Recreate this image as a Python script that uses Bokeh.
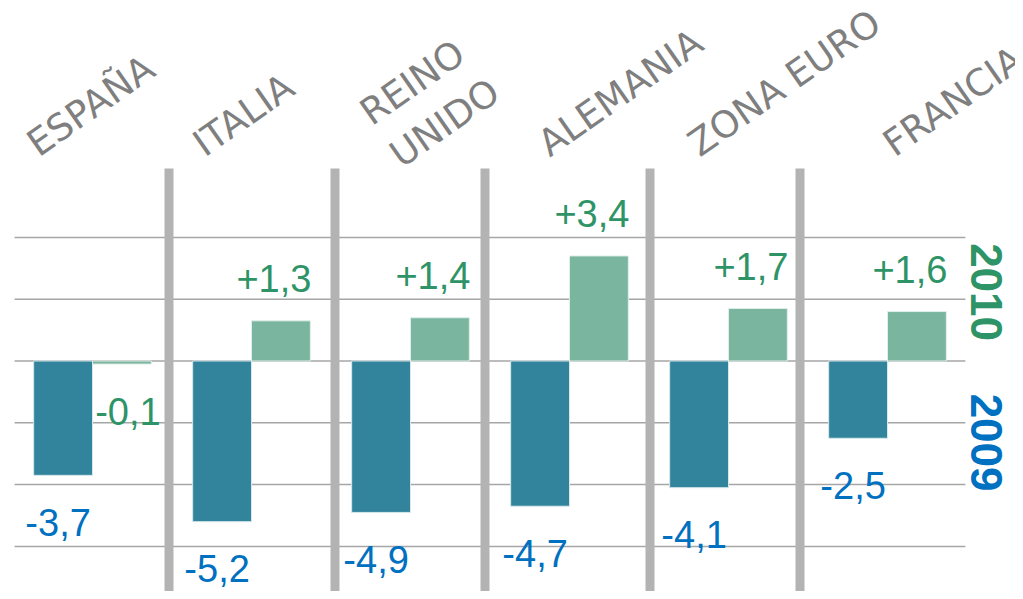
import math
from bokeh.plotting import figure
from bokeh.models import Range1d, ColumnDataSource
from bokeh.embed import file_html
from bokeh.resources import INLINE
from bokeh.core.properties import value

# ---------------- data ----------------
categories = ["ESPAÑA", "ITALIA", "REINO UNIDO", "ALEMANIA", "ZONA EURO", "FRANCIA"]
category_labels = ["ESPAÑA", "ITALIA", "REINO\nUNIDO", "ALEMANIA", "ZONA EURO", "FRANCIA"]
values_2009 = [-3.7, -5.2, -4.9, -4.7, -4.1, -2.5]
values_2010 = [-0.1, 1.3, 1.4, 3.4, 1.7, 1.6]
grid_values = [4, 2, 0, -2, -4, -6]
series_2009 = "2009"
series_2010 = "2010"

# ---------------- layout / style ----------------
W, H = 1015, 591
PX_PER_CAT = 159.0
PX_PER_UNIT = 30.9
X0_PX = 92.0
Y0_PX = 360.5
BAR_W = 0.37

C_2009_BAR = "#31849b"
C_2010_BAR = "#7ab59f"
C_2009_TXT = "#0070c0"
C_2010_TXT = "#2e9467"
C_GRID = "#a6a6a6"
C_SEP = "#b3b3b3"
C_CAT = "#7f7f7f"

def fmt(v):
    return ("%+.1f" % v).replace(".", ",")

n = len(categories)
idx = list(range(n))

p = figure(width=W, height=H, output_backend="svg", toolbar_location=None,
           x_range=Range1d(-X0_PX / PX_PER_CAT, (W - X0_PX) / PX_PER_CAT),
           y_range=Range1d(-(H - Y0_PX) / PX_PER_UNIT, Y0_PX / PX_PER_UNIT),
           min_border=0, min_border_left=0, min_border_right=0,
           min_border_top=0, min_border_bottom=0)
p.axis.visible = False
p.grid.visible = False
p.outline_line_color = None
p.background_fill_color = "white"
p.border_fill_color = "white"

# gridlines
p.segment(x0=[idx[0] - 0.49] * len(grid_values), x1=[idx[-1] + 0.49] * len(grid_values),
          y0=grid_values, y1=grid_values, line_color=C_GRID, line_width=1.5)

# separators between categories
sep_top = (Y0_PX - 168) / PX_PER_UNIT
sep_nudge_px = [-3, 4, -5, 1, -8]
sep_x = [i + 0.5 + d / PX_PER_CAT for i, d in zip(idx[:-1], sep_nudge_px)]
p.segment(x0=sep_x, x1=sep_x, y0=[sep_top] * len(sep_x),
          y1=[p.y_range.start] * len(sep_x), line_color=C_SEP, line_width=9)

# bars
src = ColumnDataSource(dict(
    x09=[i - BAR_W / 2 for i in idx],
    x10=[i + BAR_W / 2 for i in idx],
    v09=values_2009,
    v10=values_2010,
    t09=[fmt(v) for v in values_2009],
    t10=[fmt(v) for v in values_2010],
    y09=[v - 1.52 for v in values_2009],
    y10=[v + 1.36 if v >= 0 else v - 1.52 for v in values_2010],
    xo10=[-7 if v >= 0 else 6 for v in values_2010],
))
p.vbar(x="x09", width=BAR_W, top="v09", bottom=0, source=src,
       fill_color=C_2009_BAR, line_color="#d6e8ec", line_width=1)
p.vbar(x="x10", width=BAR_W, top="v10", bottom=0, source=src,
       fill_color=C_2010_BAR, line_color="#e0efe9", line_width=1)

# value labels
p.text(x="x09", y="y09", text="t09", source=src, x_offset=-5,
       text_align="center", text_baseline="middle",
       text_font=value("Liberation Sans"), text_font_size="38px",
       text_color=C_2009_TXT)
p.text(x="x10", y="y10", text="t10", source=src, x_offset="xo10",
       text_align="center", text_baseline="middle",
       text_font=value("Liberation Sans"), text_font_size="38px",
       text_color=C_2010_TXT)

# category labels (rotated)
cat_nudge_x = [-61, -54, -31, -27, -36, 0]
cat_nudge_y = [0, 0, -10, 0, 0, 0]
cat_y = (Y0_PX - 147) / PX_PER_UNIT
csrc = ColumnDataSource(dict(x=idx, y=[cat_y] * n, t=category_labels,
                             xo=cat_nudge_x, yo=cat_nudge_y))
p.text(x="x", y="y", text="t", source=csrc, x_offset="xo", y_offset="yo",
       angle=math.radians(35), text_align="left", text_baseline="alphabetic",
       text_font=value("DejaVu Sans"), text_font_size="37px", text_color=C_CAT,
       text_line_height=1.2)

# series labels on the right
yr_x = (986 - X0_PX) / PX_PER_CAT
p.text(x=[yr_x, yr_x], y=[2.23, -2.64], text=[series_2010, series_2009],
       angle=-math.pi / 2, text_align="center", text_baseline="middle",
       text_font=value("Liberation Sans"), text_font_style="bold",
       text_font_size="44px", text_color=[C_2010_TXT, C_2009_TXT])

open("out.html", "w").write(file_html(p, INLINE))
